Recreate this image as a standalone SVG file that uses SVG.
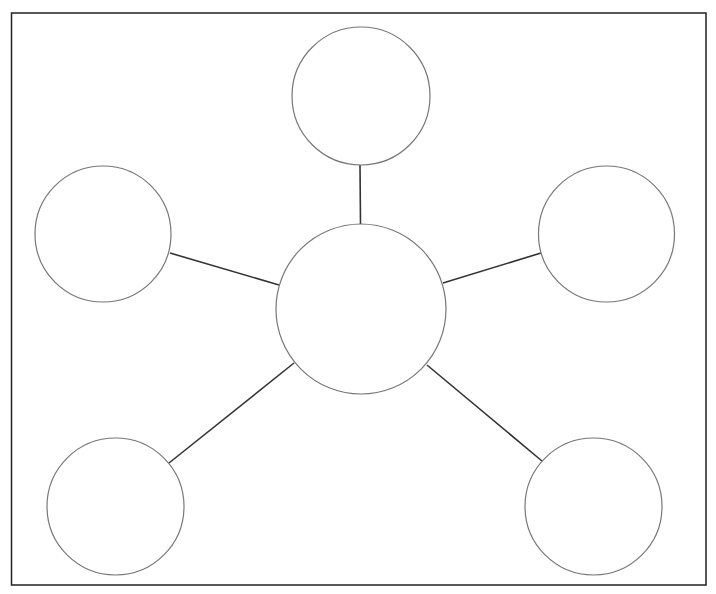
<svg xmlns="http://www.w3.org/2000/svg" width="716" height="594" viewBox="0 0 716 594">
<style>
.node{fill:#fff;stroke:#777;stroke-width:1.2}
.edge{stroke:#333;stroke-width:1.6;fill:none}
</style>
<rect x="0" y="0" width="716" height="594" fill="#fff"/>
<rect x="11.5" y="13" width="694.5" height="572" fill="none" stroke="#222" stroke-width="1.5"/>
<g id="connectors">
<line class="edge" x1="360" y1="165" x2="360.5" y2="224"/>
<line class="edge" x1="170" y1="253" x2="279" y2="285"/>
<line class="edge" x1="443" y1="283" x2="541" y2="253"/>
<line class="edge" x1="169" y1="463" x2="294" y2="363"/>
<line class="edge" x1="427" y1="365" x2="542" y2="461"/>
</g>
<g id="center"><circle class="node" cx="361" cy="309" r="85"/></g>
<g id="top"><circle class="node" cx="361" cy="96" r="69"/></g>
<g id="left"><circle class="node" cx="103" cy="234" r="68"/></g>
<g id="right"><circle class="node" cx="606.5" cy="234" r="68"/></g>
<g id="bottom-left"><circle class="node" cx="115.5" cy="506.5" r="68.5"/></g>
<g id="bottom-right"><circle class="node" cx="593.5" cy="506.5" r="68.5"/></g>
</svg>
